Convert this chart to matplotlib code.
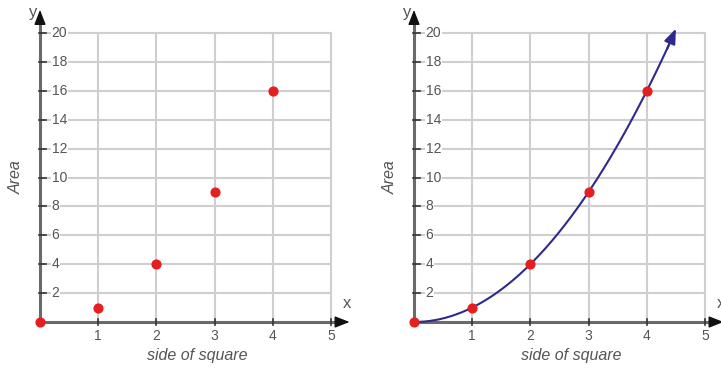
import numpy as np
import matplotlib.pyplot as plt

plt.rcParams["font.family"] = ["Liberation Sans", "DejaVu Sans"]

side = [0, 1, 2, 3, 4]
area = [0, 1, 4, 9, 16]
x_ticks = [1, 2, 3, 4, 5]
y_ticks = [2, 4, 6, 8, 10, 12, 14, 16, 18, 20]

red = "#e51f1f"
navy = "#2e2a8c"
grid_c = "#cfcfcf"
axis_c = "#6a6a6a"
text_c = "#555555"

fig = plt.figure(figsize=(7.21, 3.70), dpi=100)
W, H = 721, 370
axes = []
for left in (40, 414):
    ax = fig.add_axes([left / W, (H - 322) / H, 291 / W, 289 / H])
    axes.append(ax)

head = "-|>,head_length=0.9,head_width=0.35"


def setup(ax):
    ax.set_xlim(0, 5)
    ax.set_ylim(0, 20)
    for s in ax.spines.values():
        s.set_visible(False)
    ax.set_xticks([])
    ax.set_yticks([])
    ax.set_facecolor("none")
    # grid
    for xv in x_ticks:
        ax.plot([xv, xv], [0, 20], color=grid_c, lw=1.5, zorder=1, clip_on=False)
    for yv in y_ticks:
        ax.plot([0, 5], [yv, yv], color=grid_c, lw=1.5, zorder=1, clip_on=False)
    # axes: grey lines, black arrow heads
    ax.plot([0, 5.15], [0, 0], color=axis_c, lw=2.2, zorder=3, clip_on=False)
    ax.plot([0, 0], [0, 21.0], color=axis_c, lw=2.2, zorder=3, clip_on=False)
    ax.annotate("", xy=(5.32, 0), xytext=(5.1, 0), annotation_clip=False,
                arrowprops=dict(arrowstyle=head, mutation_scale=10, color="#111111",
                                lw=1, shrinkA=0, shrinkB=0), zorder=4)
    ax.annotate("", xy=(0, 21.6), xytext=(0, 20.6), annotation_clip=False,
                arrowprops=dict(arrowstyle=head, mutation_scale=10, color="#111111",
                                lw=1, shrinkA=0, shrinkB=0), zorder=4)
    # ticks and labels
    for xv in x_ticks:
        ax.plot([xv, xv], [-0.2, 0.2], color="#333333", lw=1.2, zorder=3, clip_on=False)
        ax.text(xv, -0.5, str(xv), ha="center", va="top", fontsize=10, color=text_c)
    for yv in y_ticks:
        ax.plot([-0.02, 0.1], [yv, yv], color="#333333", lw=1.2, zorder=3, clip_on=False)
        ax.text(0.2, yv, str(yv), ha="left", va="center", fontsize=10, color=text_c,
                zorder=2, bbox=dict(facecolor="white", edgecolor="none", pad=0.5))
    ax.text(5.27, 1.3, "x", ha="center", va="center", fontsize=12, color=text_c)
    ax.text(-0.12, 21.4, "y", ha="center", va="center", fontsize=12, color=text_c)
    ax.text(2.7, -2.3, "side of square", ha="center", va="center", fontsize=11.5,
            style="italic", color=text_c)
    ax.text(-0.4, 10, "Area", ha="center", va="center", fontsize=11.5,
            style="italic", color=text_c, rotation=90)


for ax in axes:
    setup(ax)

axes[0].scatter(side, area, s=40, color=red, zorder=5, clip_on=False)

xc = np.linspace(0, 4.45, 200)
axes[1].plot(xc, xc ** 2, color=navy, lw=1.5, zorder=4, clip_on=False)
axes[1].annotate("", xy=(4.5, 20.3), xytext=(4.35, 18.9), annotation_clip=False,
                 arrowprops=dict(arrowstyle="-|>,head_length=0.9,head_width=0.35",
                                 mutation_scale=10, color=navy, lw=1.5,
                                 shrinkA=0, shrinkB=0), zorder=4)
axes[1].scatter(side, area, s=40, color=red, zorder=5, clip_on=False)

fig.savefig("out.png", dpi=100)
